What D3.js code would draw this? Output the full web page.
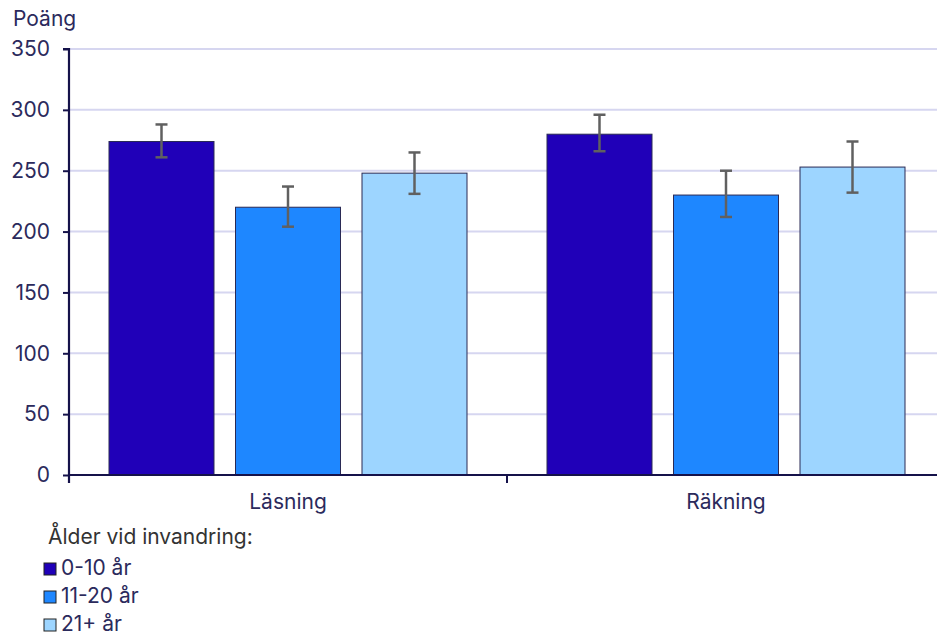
<!DOCTYPE html>
<html><head><meta charset="utf-8">
<script src="https://cdn.jsdelivr.net/npm/d3@7"></script>
<style>
html,body{margin:0;padding:0;background:#fff;}
svg{display:block;font-family:Inter,"Noto Sans",sans-serif;}
</style></head>
<body>
<script>
const categories = ["Läsning", "Räkning"];
const seriesNames = ["0-10 år", "11-20 år", "21+ år"];
const values = [[274, 220, 248], [280, 230, 253]];
const errLow = [[261, 204, 231], [266, 212, 232]];
const errHigh = [[288, 237, 265], [296, 250, 274]];
const yTicks = [0, 50, 100, 150, 200, 250, 300, 350];
const colors = ["#2000b8", "#1e87ff", "#9dd5ff"];
const legendTitle = "Ålder vid invandring:";
const yTitle = "Poäng";

const W = 937, H = 635;
const FS = "21px";
const svg = d3.select("body").append("svg").attr("width", W).attr("height", H);

const mLeft = 69, mRight = 945, mTop = 49, mBottom = 475;
const y = d3.scaleLinear().domain([0, 350]).range([mBottom, mTop]);
const x0 = d3.scaleBand().domain(categories).range([mLeft, mRight]).padding(0);
const bw = x0.bandwidth();
const x1 = d3.scaleBand().domain(d3.range(3)).range([40, bw - 40]).paddingInner(0.17).paddingOuter(0);

// grid
svg.append("g").selectAll("line").data(yTicks.filter(d => d > 0)).join("line")
  .attr("x1", mLeft).attr("x2", W).attr("y1", d => y(d)).attr("y2", d => y(d))
  .attr("stroke", "#d6d6f0").attr("stroke-width", 2);

// bars
const groups = svg.append("g").selectAll("g").data(categories).join("g")
  .attr("transform", d => `translate(${x0(d)},0)`);
groups.each(function(cat, ci) {
  const g = d3.select(this);
  values[ci].forEach((v, si) => {
    g.append("rect")
      .attr("x", x1(si)).attr("y", y(v))
      .attr("width", x1.bandwidth()).attr("height", y(0) - y(v))
      .attr("fill", colors[si]).attr("stroke", "#2a2a55").attr("stroke-width", 1);
  });
  values[ci].forEach((v, si) => {
    const cx = x1(si) + x1.bandwidth() / 2;
    const lo = y(errLow[ci][si]), hi = y(errHigh[ci][si]);
    const eg = g.append("g").attr("stroke", "#606060").attr("stroke-width", 2.5);
    eg.append("line").attr("x1", cx).attr("x2", cx).attr("y1", lo).attr("y2", hi);
    eg.append("line").attr("x1", cx - 6).attr("x2", cx + 6).attr("y1", lo).attr("y2", lo);
    eg.append("line").attr("x1", cx - 6).attr("x2", cx + 6).attr("y1", hi).attr("y2", hi);
  });
});

const axisColor = "#15124a";
const textColor = "#2b2a5c";

// y axis
const yAxis = svg.append("g").attr("transform", `translate(${mLeft},0)`)
  .call(d3.axisLeft(y).tickValues(yTicks).tickSize(6).tickPadding(13));
yAxis.select(".domain").attr("stroke", axisColor).attr("stroke-width", 2.2)
  .attr("d", `M-6,${mTop}H0V${mBottom + 8}`);
yAxis.selectAll(".tick line").attr("stroke", axisColor).attr("stroke-width", 2);
yAxis.selectAll(".tick text").attr("fill", textColor).style("font-size", FS)
  .style("font-family", "Inter, sans-serif");

// x axis
const xAxisG = svg.append("g").attr("transform", `translate(0,${mBottom})`);
xAxisG.append("line").attr("x1", mLeft).attr("x2", W).attr("y1", 0).attr("y2", 0)
  .attr("stroke", axisColor).attr("stroke-width", 2.2);
xAxisG.selectAll("line.sep").data(categories.slice(1)).join("line").attr("class", "sep")
  .attr("x1", d => x0(d)).attr("x2", d => x0(d)).attr("y1", 0).attr("y2", 8)
  .attr("stroke", axisColor).attr("stroke-width", 2);
xAxisG.selectAll("text.cat").data(categories).join("text").attr("class", "cat")
  .attr("x", d => x0(d) + bw / 2).attr("y", 34)
  .attr("text-anchor", "middle").attr("fill", textColor).style("font-size", FS)
  .text(d => d);

// y title
svg.append("text").attr("x", 13).attr("y", 26).attr("fill", textColor)
  .style("font-size", FS).text(yTitle);

// legend
svg.append("text").attr("x", 48).attr("y", 544).attr("fill", "#333333")
  .style("font-size", FS).text(legendTitle);
const lg = svg.append("g").selectAll("g").data(seriesNames).join("g")
  .attr("transform", (d, i) => `translate(44,${563 + i * 28})`);
lg.append("rect").attr("width", 12).attr("height", 12)
  .attr("fill", (d, i) => colors[i]).attr("stroke", "#222").attr("stroke-width", 1);
lg.append("text").attr("x", 17).attr("y", 12).attr("fill", textColor)
  .style("font-size", FS).text(d => d);
</script>
</body></html>
